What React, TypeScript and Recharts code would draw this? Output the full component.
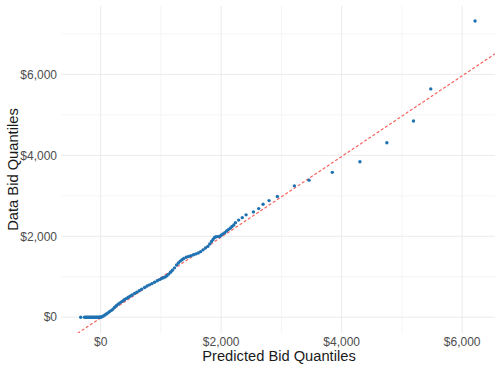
import React from "react";
import {
  ComposedChart,
  Scatter,
  XAxis,
  YAxis,
  ReferenceLine,
} from "recharts";

// Predicted (x) vs data (y) bid quantiles
const predictedQuantiles: number[] = [
  -331, -268, -250, -232, -214, -196, -178, -160, -142, -124, -106, -88, -70, -52, -36, -20, -8, 0,
  20, 45, 70, 95, 121, 150, 180, 205, 232, 260, 290, 320, 350, 380, 398, 430, 460, 490, 520, 563,
  600, 640, 680, 729, 770, 810, 850, 895, 940, 980, 1010, 1040, 1070, 1100, 1130, 1160, 1190, 1226,
  1260, 1290, 1320, 1350, 1380, 1420, 1460, 1500, 1540, 1580, 1620, 1660, 1700, 1740, 1778, 1810,
  1840, 1865, 1890, 1915, 1945, 1972, 2000, 2030, 2060, 2090, 2120, 2150, 2180, 2210, 2237, 2290,
  2350, 2414, 2535, 2623, 2696, 2795, 2933, 3215, 3458, 3845, 4303, 4750, 5192, 5479, 6214,
];
const dataQuantiles: number[] = [
  0, 0, 0, 0, 0, 0, 0, 0, 0, 0, 0, 0, 0, 0, 0, 0, 0, 2,
  10, 30, 55, 80, 107, 140, 170, 200, 245, 285, 320, 355, 385, 415, 438, 465, 495, 520, 548, 587,
  620, 655, 690, 736, 770, 800, 830, 865, 900, 930, 955, 975, 995, 1025, 1065, 1110, 1160, 1220,
  1290, 1340, 1385, 1420, 1450, 1480, 1500, 1520, 1545, 1565, 1585, 1620, 1665, 1710, 1750, 1810,
  1870, 1920, 1970, 1990, 1992, 1995, 2025, 2060, 2090, 2130, 2165, 2200, 2240, 2280, 2337, 2400,
  2460, 2530, 2602, 2684, 2793, 2882, 2981, 3246, 3387, 3580, 3841, 4312, 4849, 5642, 7318,
];

const xTicks: number[] = [0, 2000, 4000, 6000];
const yTicks: number[] = [0, 2000, 4000, 6000];
const xMinor: number[] = [1000, 3000, 5000];
const yMinor: number[] = [1000, 3000, 5000, 7000];

const xDomain: [number, number] = [-658, 6545];
const yDomain: [number, number] = [-390, 7690];

// reference line y = intercept + slope * x
const lineSlope = 0.997;
const lineIntercept = -17;

const points = predictedQuantiles.map((x, i) => ({ x, y: dataQuantiles[i] }));

const money = (v: number) => "$" + v.toLocaleString("en-US");

const FONT = "'Liberation Sans', Arial, Helvetica, sans-serif";

const Dot = (props: any) => (
  <circle cx={props.cx} cy={props.cy} r={1.7} fill="#1f72b2" />
);

export default function App() {
  return (
    <div style={{ position: "absolute", left: 0, top: 0, background: "#fff" }}>
      <ComposedChart
        width={495}
        height={365}
        margin={{ top: 6, right: 0, bottom: 0, left: 0 }}
        style={{ fontFamily: FONT }}
      >
        {xMinor.map((v) => (
          <ReferenceLine key={"vx" + v} x={v} stroke="#f3f3f3" strokeWidth={0.8} />
        ))}
        {yMinor.map((v) => (
          <ReferenceLine key={"hy" + v} y={v} stroke="#f3f3f3" strokeWidth={0.8} />
        ))}
        {xTicks.map((v) => (
          <ReferenceLine key={"VX" + v} x={v} stroke="#ebebeb" strokeWidth={1} />
        ))}
        {yTicks.map((v) => (
          <ReferenceLine key={"HY" + v} y={v} stroke="#ebebeb" strokeWidth={1} />
        ))}
        <XAxis
          type="number"
          dataKey="x"
          domain={xDomain}
          ticks={xTicks}
          tickFormatter={money}
          allowDataOverflow
          axisLine={false}
          tickLine={false}
          tickSize={0}
          tickMargin={4}
          height={32}
          tick={{ fill: "#4d4d4d", fontSize: 12, fontFamily: FONT }}
          label={{
            content: (p: any) => {
              const vb = p.viewBox;
              return (
                <text
                  x={vb.x + vb.width / 2 + 1}
                  y={361}
                  textAnchor="middle"
                  fill="#1a1a1a"
                  fontSize={14.7}
                  fontFamily={FONT}
                >
                  Predicted Bid Quantiles
                </text>
              );
            },
          }}
        />
        <YAxis
          type="number"
          dataKey="y"
          domain={yDomain}
          ticks={yTicks}
          tickFormatter={money}
          allowDataOverflow
          axisLine={false}
          tickLine={false}
          tickSize={0}
          tickMargin={4}
          width={61}
          tick={{ fill: "#4d4d4d", fontSize: 12, fontFamily: FONT }}
          label={{
            content: (p: any) => {
              const vb = p.viewBox;
              const cx = 18;
              const cy = vb.y + vb.height / 2;
              return (
                <text
                  x={cx}
                  y={cy}
                  transform={`rotate(-90 ${cx} ${cy})`}
                  textAnchor="middle"
                  fill="#1a1a1a"
                  fontSize={14.7}
                  fontFamily={FONT}
                >
                  Data Bid Quantiles
                </text>
              );
            },
          }}
        />
        <ReferenceLine
          ifOverflow="hidden"
          segment={[
            { x: xDomain[0], y: lineIntercept + lineSlope * xDomain[0] },
            { x: xDomain[1], y: lineIntercept + lineSlope * xDomain[1] },
          ]}
          stroke="#f8635f"
          strokeWidth={1.2}
          strokeDasharray="3 2"
        />
        <Scatter data={points} shape={Dot} isAnimationActive={false} />
      </ComposedChart>
    </div>
  );
}
